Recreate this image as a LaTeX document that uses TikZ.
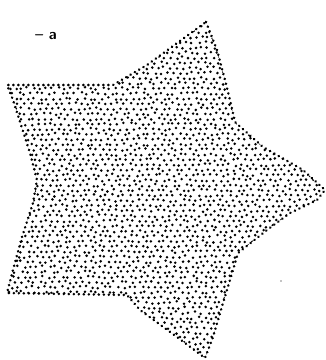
\documentclass[tikz,border=0pt]{standalone}
\usetikzlibrary{decorations.markings}
\begin{document}
\begin{tikzpicture}[x=1pt,y=-1pt,
  dotfill/.style={fill=black},
  edgedots/.style={decorate,decoration={markings,
     mark=between positions 0 and 1 step 5pt with {\fill[black] (0,0) circle (1.4pt);}}},
  lbl/.style={font=\sffamily\bfseries\fontsize{15}{15}\selectfont, inner sep=0pt}]
\useasboundingbox (0,0) rectangle (326,360);
\pgfmathsetseed{4242}
\begin{scope}
\clip (206,22) -- (217,50) -- (225,80) -- (230,100) -- (235,122) -- (263,147) -- (303,170) -- (325,190) -- (317,200) -- (290,213) -- (267,230) -- (238,253) -- (230,280) -- (223,303) -- (213,337) -- (205,358) -- (177,337) -- (140,310) -- (127,295) -- (7,293) -- (13,270) -- (22,237) -- (33,203) -- (37,180) -- (30,153) -- (13,100) -- (7,85) -- (113,85) -- (147,65) -- cycle;
\foreach \r in {0,...,67} {
  \foreach \c in {0,...,53} {
    \pgfmathsetmacro\px{\c*6.2 + mod(\r,2)*3.1 + 1.6*rand}
    \pgfmathsetmacro\py{\r*5.1 + 22 + 1.3*rand}
    \fill[dotfill] (\px,\py) circle (1.4pt);
  }
}
\end{scope}
\path[edgedots] (206,22) -- (217,50) -- (225,80) -- (230,100) -- (235,122) -- (263,147) -- (303,170) -- (325,190) -- (317,200) -- (290,213) -- (267,230) -- (238,253) -- (230,280) -- (223,303) -- (213,337) -- (205,358) -- (177,337) -- (140,310) -- (127,295) -- (7,293) -- (13,270) -- (22,237) -- (33,203) -- (37,180) -- (30,153) -- (13,100) -- (7,85) -- (113,85) -- (147,65) -- cycle;
\fill (281,281) circle (0.7pt);
\node[lbl] (label) at (46,36) {-- a};
\end{tikzpicture}
\end{document}
